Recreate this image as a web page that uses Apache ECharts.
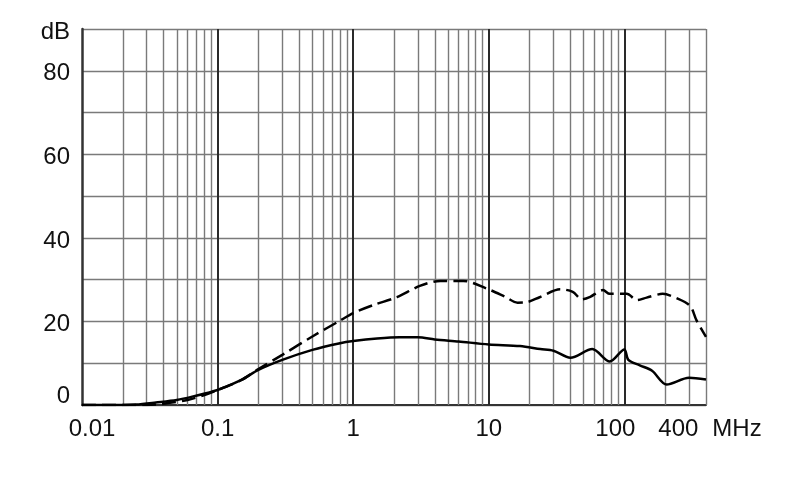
<!DOCTYPE html>
<html>
<head>
<meta charset="utf-8">
<script src="https://cdn.jsdelivr.net/npm/echarts@6/dist/echarts.min.js"></script>
<style>
html,body{margin:0;padding:0;background:#fff;}
#chart{width:790px;height:499px;}
</style>
</head>
<body>
<div id="chart"></div>
<script>
// Frequency axis (MHz, log)
const xMin = 0.01;
const xMax = 400;
const decadeLines = [0.1, 1, 10, 100];
const minorLines = [0.02,0.03,0.04,0.05,0.06,0.07,0.08,0.09,
                    0.2,0.3,0.4,0.5,0.6,0.7,0.8,0.9,
                    2,3,4,5,6,7,8,9,
                    20,30,40,50,60,70,80,90,
                    200,300,400];
const xLabelValues = [0.01, 0.1, 1, 10, 100, 400];
const xLabelTexts  = ['0.01', '0.1', '1', '10', '100', '400'];
const xUnit = 'MHz';
// Attenuation axis (dB)
const yMin = 0, yMax = 90, yStep = 10;
const yLabelValues = [0, 20, 40, 60, 80, 90];
const yLabelTexts  = ['0', '20', '40', '60', '80', 'dB'];

// Solid curve
const solidFreq = [0.01,0.02,0.025,0.035,0.05,0.065,0.1,0.15,0.2,0.3,0.5,0.8,1,1.5,2.2,3,4,6,10,17,24,30,40,58,78,100,107,130,160,205,300,400];
const solidDb   = [0,0,0.1,0.6,1.2,2.0,3.6,6.0,8.4,10.8,13.2,14.8,15.3,15.9,16.2,16.2,15.7,15.2,14.5,14.1,13.4,13.0,11.3,13.4,10.4,13.3,10.8,9.5,8.2,4.9,6.5,6.1];
// Dashed curve
const dashFreq = [0.01,0.02,0.03,0.04,0.06,0.08,0.1,0.15,0.2,0.3,0.5,0.8,1,1.4,2.1,3.1,4.4,6.5,9.6,13.2,16.3,19,23.7,33.6,41.6,48.6,56,69.6,78,104,124,146,192,245,306,340,400];
const dashDb   = [0,0,0,0.3,1.2,2.4,3.6,6.0,8.6,12.0,16.4,20.2,22,23.9,25.8,28.5,29.7,29.7,27.9,25.9,24.5,24.6,25.8,27.7,27.1,25.3,25.9,27.5,26.6,26.6,25.1,25.7,26.6,25.5,23.7,20.3,16.3];

const pairs = (xs, ys) => xs.map((x, i) => [x, ys[i]]);
const font = 'Liberation Sans, Arial, Helvetica, sans-serif';
const txt = {color: '#111', fontSize: 24, fontFamily: font};

const chart = echarts.init(document.getElementById('chart'), null, {renderer: 'canvas'});
chart.setOption({
  animation: false,
  backgroundColor: '#fff',
  grid: {left: 82, right: 84, top: 29, bottom: 94, containLabel: false},
  xAxis: {
    type: 'log', logBase: 10, min: xMin, max: xMax,
    axisLine: {show: true, onZero: false, lineStyle: {color: '#333', width: 2}},
    axisTick: {show: false},
    splitLine: {show: false},
    axisLabel: {
      color: '#111', fontSize: 24, fontFamily: font, margin: 12,
      showMinLabel: true, showMaxLabel: true,
      rich: {
        first: Object.assign({padding: [0, 0, 0, 20]}, txt),
        mid: Object.assign({}, txt),
        hund: Object.assign({padding: [0, 18, 0, 0]}, txt),
        last: Object.assign({padding: [0, 0, 0, 8]}, txt),
        unit: Object.assign({padding: [0, 0, 0, 14]}, txt)
      },
      formatter: function (v) {
        for (let i = 0; i < xLabelValues.length; i++) {
          if (Math.abs(Math.log10(v) - Math.log10(xLabelValues[i])) < 1e-6) {
            const t = xLabelTexts[i];
            if (i === 0) return '{first|' + t + '}';
            if (i === xLabelValues.length - 1) return '{last|' + t + '}{unit|' + xUnit + '}';
            if (i === xLabelValues.length - 2) return '{hund|' + t + '}';
            return '{mid|' + t + '}';
          }
        }
        return '';
      }
    }
  },
  yAxis: {
    type: 'value', min: yMin, max: yMax, interval: yStep,
    axisLine: {show: true, lineStyle: {color: '#333', width: 2.5}},
    axisTick: {show: false},
    splitLine: {show: true, lineStyle: {color: '#7a7a7a', width: 1.4}},
    axisLabel: {
      color: '#111', fontSize: 24, fontFamily: font, margin: 12,
      rich: {
        zero: Object.assign({padding: [0, 0, 17, 0]}, txt),
        reg: Object.assign({padding: [6, 0, 0, 0]}, txt)
      },
      formatter: function (v) {
        const i = yLabelValues.indexOf(v);
        if (i < 0) return '';
        return (v === 0 ? '{zero|' : '{reg|') + yLabelTexts[i] + '}';
      }
    }
  },
  series: [
    {
      name: 'grid', type: 'line', data: [], z: 1, silent: true,
      markLine: {
        silent: true, symbol: 'none', label: {show: false}, animation: false,
        data: minorLines.map(v => ({xAxis: v, lineStyle: {color: '#7a7a7a', width: 1.4, type: 'solid'}}))
          .concat(decadeLines.map(v => ({xAxis: v, lineStyle: {color: '#2a2a2a', width: 2, type: 'solid'}})))
      }
    },
    {
      name: 'solid', type: 'line', data: pairs(solidFreq, solidDb), z: 5,
      showSymbol: false, smooth: 0.3,
      lineStyle: {color: '#000', width: 2.5, type: 'solid'}
    },
    {
      name: 'dashed', type: 'line', data: pairs(dashFreq, dashDb), z: 5,
      showSymbol: false, smooth: 0.3,
      lineStyle: {color: '#000', width: 2.5, type: [14, 6]}
    }
  ]
});
</script>
</body>
</html>
